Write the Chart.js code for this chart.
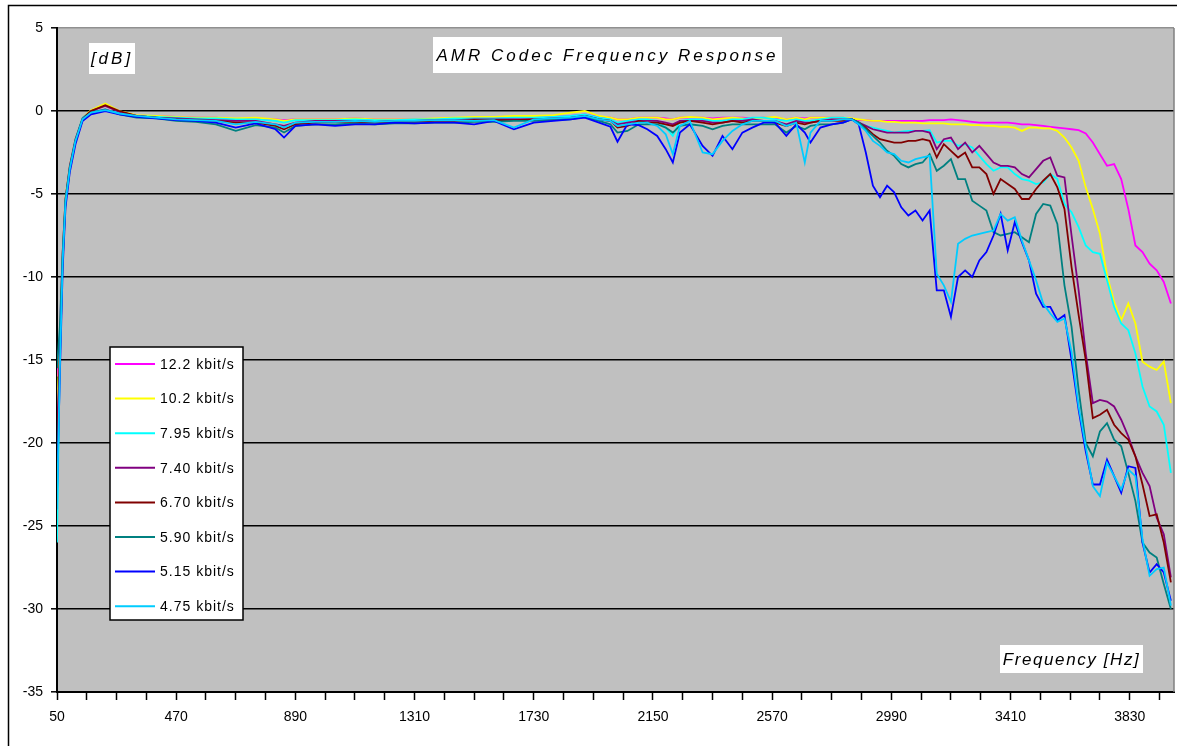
<!DOCTYPE html>
<html>
<head>
<meta charset="utf-8">
<title>AMR Codec Frequency Response</title>
<script src="https://cdn.jsdelivr.net/npm/chart.js@4.4.1/dist/chart.umd.min.js"></script>
<style>
    html, body { margin: 0; padding: 0; background: #fff; }
    #wrap { width: 1177px; height: 746px; }
</style>
</head>
<body>
<div id="wrap"><canvas id="amr-chart"></canvas></div>
<script>
// frequency points in Hz (shared by all series)
const freq = [
    50, 60, 70, 80, 95, 115, 140, 170, 220, 270, 330,
    400, 470, 540, 610, 680, 750, 820, 850, 890, 960, 1030, 1100, 1170, 1240, 1310, 1380, 1450, 1520, 1590, 1660, 1730, 1800, 1860, 1910, 1960,
    2000, 2025, 2060, 2100, 2130, 2165, 2195, 2220, 2245, 2280, 2325, 2360, 2395, 2430, 2465, 2500, 2540, 2580, 2620, 2655, 2685, 2705, 2740, 2780, 2820,
    2850, 2875, 2900, 2925, 2950, 2975, 3000, 3025, 3050, 3075, 3100, 3125, 3150, 3175, 3200, 3225, 3250, 3275, 3300, 3325, 3350, 3375, 3400, 3425,
    3450, 3475, 3500, 3525, 3550, 3575, 3600, 3625, 3650, 3675, 3700, 3725, 3750, 3775, 3800, 3825, 3850, 3875, 3900, 3925, 3950, 3975
];

// response in dB per codec mode
const r122 = [
    -16, -13.5, -8.5, -5.3, -3.4, -1.8, -0.5, -0.1, 0.1, -0.15, -0.3,
    -0.3, -0.35, -0.4, -0.4, -0.5, -0.45, -0.5, -0.55, -0.5, -0.5, -0.5, -0.45, -0.5, -0.5, -0.5, -0.5, -0.45, -0.4, -0.4, -0.4, -0.4, -0.35, -0.3, -0.2, -0.35,
    -0.4, -0.5, -0.5, -0.4, -0.4, -0.4, -0.45, -0.5, -0.4, -0.4, -0.4, -0.45, -0.4, -0.4, -0.4, -0.45, -0.4, -0.4, -0.5, -0.4, -0.45, -0.4, -0.4, -0.4, -0.4,
    -0.5, -0.55, -0.55, -0.6, -0.6, -0.6, -0.6, -0.6, -0.6, -0.6, -0.6, -0.55, -0.55, -0.55, -0.5, -0.55, -0.6, -0.65, -0.7, -0.7, -0.7, -0.7, -0.7, -0.75,
    -0.8, -0.8, -0.85, -0.9, -0.95, -1.0, -1.05, -1.1, -1.15, -1.35, -1.9, -2.6, -3.3, -3.2, -4.1, -5.9, -8.1, -8.5, -9.2, -9.6, -10.3, -11.6
];
const r102 = [
    -18, -14, -8.5, -5.2, -3.3, -1.7, -0.4, 0.05, 0.45, 0.0, -0.25,
    -0.3, -0.35, -0.4, -0.4, -0.45, -0.4, -0.5, -0.6, -0.5, -0.5, -0.5, -0.45, -0.5, -0.5, -0.5, -0.45, -0.4, -0.35, -0.35, -0.3, -0.3, -0.25, -0.1, 0.0, -0.3,
    -0.4, -0.5, -0.5, -0.4, -0.4, -0.4, -0.5, -0.5, -0.4, -0.35, -0.4, -0.5, -0.45, -0.4, -0.45, -0.5, -0.4, -0.35, -0.5, -0.4, -0.5, -0.4, -0.4, -0.4, -0.4,
    -0.45, -0.5, -0.55, -0.6, -0.6, -0.65, -0.65, -0.7, -0.7, -0.7, -0.75, -0.75, -0.75, -0.75, -0.8, -0.8, -0.8, -0.85, -0.85, -0.9, -0.9, -0.95, -0.95, -1.0,
    -1.2, -1.0, -1.0, -1.05, -1.05, -1.2, -1.6, -2.2, -3.0, -4.6, -5.9, -7.4, -9.9, -11.5, -12.6, -11.6, -12.8, -15.1, -15.4, -15.6, -15.1, -17.6
];
const r795 = [
    -26, -15, -8.8, -5.4, -3.4, -1.7, -0.4, -0.05, 0.05, -0.1, -0.3,
    -0.35, -0.4, -0.45, -0.45, -0.5, -0.5, -0.6, -0.7, -0.55, -0.55, -0.55, -0.5, -0.55, -0.55, -0.5, -0.5, -0.45, -0.45, -0.45, -0.4, -0.4, -0.35, -0.3, -0.2, -0.4,
    -0.5, -0.7, -0.6, -0.5, -0.5, -0.6, -1.0, -1.5, -0.6, -0.5, -0.5, -0.6, -0.6, -0.5, -0.5, -0.4, -0.4, -0.5, -0.6, -0.5, -0.6, -0.6, -0.5, -0.4, -0.4,
    -0.5, -0.7, -0.9, -1.0, -1.1, -1.2, -1.3, -1.25, -1.2, -1.2, -1.2, -1.15, -1.9, -1.8, -1.8, -2.1, -2.0, -2.2, -2.7, -3.2, -3.6, -3.4, -3.4, -3.8,
    -4.1, -4.2, -4.4, -4.3, -3.8, -4.1, -5.6, -6.1, -7.0, -8.1, -8.5, -8.6, -10.2, -11.8, -12.8, -13.2, -14.6, -16.6, -17.8, -18.1, -18.9, -21.8
];
const r740 = [
    -19.5, -14.5, -8.6, -5.3, -3.3, -1.7, -0.45, 0.0, 0.3, -0.05, -0.3,
    -0.4, -0.45, -0.5, -0.55, -0.6, -0.6, -0.8, -0.9, -0.7, -0.6, -0.6, -0.6, -0.65, -0.6, -0.6, -0.55, -0.55, -0.5, -0.5, -0.5, -0.5, -0.45, -0.4, -0.3, -0.5,
    -0.6, -0.8, -0.7, -0.6, -0.6, -0.6, -0.7, -0.8, -0.6, -0.6, -0.6, -0.7, -0.7, -0.6, -0.6, -0.5, -0.6, -0.6, -0.8, -0.6, -0.7, -0.7, -0.6, -0.5, -0.5,
    -0.5, -0.7, -0.9, -1.1, -1.2, -1.3, -1.3, -1.3, -1.3, -1.2, -1.2, -1.3, -2.3, -1.7, -1.6, -2.3, -1.9, -2.5, -2.1, -2.6, -3.1, -3.3, -3.3, -3.4,
    -3.8, -4.0, -3.5, -3.0, -2.8, -3.9, -4.0, -7.5, -10.8, -14.6, -17.6, -17.4, -17.5, -17.8, -18.6, -19.6, -20.8, -21.8, -22.6, -24.5, -25.5, -28.1
];
const r670 = [
    -21, -15, -9, -5.5, -3.5, -1.8, -0.5, 0.0, 0.35, 0.0, -0.3,
    -0.4, -0.5, -0.55, -0.6, -0.7, -0.7, -0.9, -1.1, -0.8, -0.7, -0.65, -0.65, -0.7, -0.65, -0.65, -0.6, -0.6, -0.55, -0.55, -0.55, -0.5, -0.5, -0.45, -0.3, -0.5,
    -0.6, -1.0, -0.9, -0.6, -0.7, -0.7, -0.8, -0.9, -0.7, -0.6, -0.7, -0.8, -0.7, -0.6, -0.7, -0.6, -0.6, -0.7, -0.9, -0.7, -0.8, -0.7, -0.6, -0.6, -0.6,
    -0.5, -0.7, -1.0, -1.4, -1.7, -1.8, -1.9, -1.9, -1.8, -1.8, -1.7, -1.8, -2.8, -2.0, -2.4, -2.8, -2.5, -3.4, -3.4, -3.8, -5.0, -4.1, -4.4, -4.7,
    -5.3, -5.3, -4.7, -4.2, -3.8, -4.6, -5.9, -9.4, -12.3, -15.0, -18.5, -18.3, -18.0, -18.9, -19.4, -19.8, -20.8, -22.5, -24.4, -24.3, -26.0, -28.4
];
const r590 = [
    -15.5, -13, -8.5, -5.3, -3.4, -1.8, -0.5, -0.1, 0.1, -0.2, -0.4,
    -0.45, -0.6, -0.65, -0.8, -1.2, -0.85, -1.0, -1.3, -0.9, -0.8, -0.8, -0.75, -0.8, -0.75, -0.75, -0.7, -0.7, -0.65, -0.65, -0.6, -0.6, -0.55, -0.5, -0.35, -0.6,
    -0.8, -1.3, -1.2, -0.8, -0.8, -0.8, -1.0, -1.3, -0.9, -0.8, -0.9, -1.1, -0.9, -0.8, -0.8, -0.8, -0.8, -0.8, -1.3, -0.9, -1.1, -0.9, -0.8, -0.8, -0.7,
    -0.5, -0.7, -1.1, -1.5, -1.9, -2.4, -2.7, -3.2, -3.4, -3.2, -3.1, -2.6, -3.6, -3.3, -2.9, -4.1, -4.1, -5.4, -5.7, -6.0, -7.3, -7.5, -7.4, -7.3,
    -7.6, -7.9, -6.2, -5.6, -5.7, -6.8, -10.5, -13.0, -16.8, -20.0, -20.8, -19.3, -18.8, -19.8, -20.2, -21.8, -23.5, -26.0, -26.6, -26.9, -28.5, -30.0
];
const r515 = [
    -23, -16, -9.5, -5.8, -3.7, -2.0, -0.6, -0.2, 0.0, -0.2, -0.35,
    -0.45, -0.55, -0.6, -0.7, -1.0, -0.75, -1.1, -1.6, -0.9, -0.8, -0.9, -0.8, -0.8, -0.7, -0.75, -0.7, -0.7, -0.8, -0.6, -1.1, -0.7, -0.6, -0.5, -0.4, -0.7,
    -0.95, -1.85, -0.8, -0.85, -1.1, -1.5, -2.3, -3.1, -1.3, -0.8, -2.1, -2.7, -1.5, -2.3, -1.3, -1.0, -0.7, -0.7, -1.5, -0.8, -1.3, -1.9, -1.0, -0.8, -0.7,
    -0.5, -0.8, -2.5, -4.5, -5.2, -4.5, -4.9, -5.8, -6.3, -6.0, -6.6, -6.0, -10.8, -10.8, -12.4, -10.0, -9.6, -10.0, -9.0, -8.5, -7.5, -6.2, -8.4, -6.7,
    -7.9, -9.0, -11.0, -11.8, -11.8, -12.6, -12.3, -15.0, -18.0, -20.5, -22.5, -22.5, -21.0, -22.0, -23.0, -21.4, -21.5, -26.0, -27.8, -27.3, -27.8, -29.5
];
const r475 = [
    -24, -15.5, -9.0, -5.5, -3.5, -1.8, -0.5, -0.1, 0.05, -0.15, -0.3,
    -0.4, -0.5, -0.55, -0.6, -0.8, -0.65, -0.8, -1.0, -0.7, -0.65, -0.65, -0.6, -0.65, -0.6, -0.6, -0.55, -0.55, -0.6, -0.55, -1.0, -0.5, -0.45, -0.4, -0.3, -0.5,
    -0.6, -0.9, -0.8, -0.7, -0.7, -0.9, -1.4, -2.6, -0.9, -0.6, -2.5, -2.6, -1.8, -1.2, -0.8, -0.6, -0.6, -0.6, -0.9, -0.7, -3.1, -1.3, -0.6, -0.6, -0.5,
    -0.5, -0.8, -1.2, -1.8, -2.1, -2.5, -2.6, -3.0, -3.1, -2.9, -2.8, -2.7, -9.8, -10.5, -11.5, -8.0, -7.7, -7.5, -7.4, -7.3, -7.2, -6.2, -6.6, -6.4,
    -7.8, -9.0, -10.2, -11.6, -12.2, -12.7, -12.5, -14.5, -17.8, -20.2, -22.6, -23.2, -21.2, -22.0, -22.8, -21.6, -22.0, -25.8, -28.0, -27.6, -27.5, -29.8
];

const seriesLabels = ['12.2 kbit/s', '10.2 kbit/s', '7.95 kbit/s', '7.40 kbit/s', '6.70 kbit/s', '5.90 kbit/s', '5.15 kbit/s', '4.75 kbit/s'];
const seriesValues = [r122, r102, r795, r740, r670, r590, r515, r475];
const seriesColors = ['#ff00ff', '#ffff00', '#00ffff', '#800080', '#800000', '#008080', '#0000ff', '#00ccff'];

const xTickLabels = [50, 470, 890, 1310, 1730, 2150, 2570, 2990, 3410, 3830];
const xTickStep = 105;

const FONT = "'Liberation Sans', Arial, sans-serif";

function drawBox(ctx, text, x, y, w, h, spacing) {
    ctx.fillStyle = '#fff';
    ctx.fillRect(x, y, w, h);
    ctx.font = 'italic 17px ' + FONT;
    ctx.letterSpacing = spacing;
    ctx.fillStyle = '#000';
    ctx.textAlign = 'center';
    ctx.textBaseline = 'middle';
    ctx.fillText(text, x + w / 2, y + h / 2 + 1);
}

const decor = {
    id: 'decor',
    beforeDraw(chart) {
        const {ctx, chartArea: a} = chart;
        ctx.save();
        ctx.fillStyle = '#fff';
        ctx.fillRect(0, 0, chart.width, chart.height);
        ctx.fillStyle = '#c0c0c0';
        ctx.fillRect(a.left, a.top, a.right - a.left, a.bottom - a.top);
        ctx.strokeStyle = '#000';
        ctx.lineWidth = 1.5;
        ctx.strokeRect(8.5, 5.5, chart.width + 40, chart.height + 40);
        ctx.restore();
    },
    afterDraw(chart) {
        const {ctx, chartArea: a} = chart;
        ctx.save();
        ctx.strokeStyle = '#808080';
        ctx.lineWidth = 1.5;
        ctx.beginPath();
        ctx.moveTo(a.right, a.top);
        ctx.lineTo(a.right, a.bottom);
        ctx.stroke();

        drawBox(ctx, 'AMR Codec Frequency Response', 433, 37, 349, 36, '3px');
        drawBox(ctx, '[dB]', 89, 43, 46, 31, '3px');
        drawBox(ctx, 'Frequency [Hz]', 1000, 645, 143, 28, '1.6px');

        // legend
        ctx.fillStyle = '#fff';
        ctx.fillRect(110, 347, 133, 273);
        ctx.strokeStyle = '#000';
        ctx.lineWidth = 1.5;
        ctx.strokeRect(110, 347, 133, 273);
        ctx.font = '14px ' + FONT;
        ctx.letterSpacing = '1px';
        ctx.textAlign = 'left';
        ctx.textBaseline = 'middle';
        chart.data.datasets.forEach((ds, i) => {
            const y = 364 + i * 34.6;
            ctx.strokeStyle = ds.borderColor;
            ctx.lineWidth = 2;
            ctx.beginPath();
            ctx.moveTo(115, y);
            ctx.lineTo(155, y);
            ctx.stroke();
            ctx.fillStyle = '#000';
            ctx.fillText(ds.label, 160, y + 1);
        });
        ctx.restore();
    }
};

const datasets = seriesLabels.map((label, i) => ({
    label: label,
    data: freq.map((f, j) => ({x: f, y: seriesValues[i][j]})),
    borderColor: seriesColors[i],
    backgroundColor: seriesColors[i],
    borderWidth: 1.8,
    pointRadius: 0,
    tension: 0,
    fill: false,
    order: seriesLabels.length - i
}));

new Chart(document.querySelector('#amr-chart'), {
    type: 'line',
    data: {datasets: datasets},
    options: {
        responsive: true,
        maintainAspectRatio: false,
        devicePixelRatio: 1,
        animation: false,
        events: [],
        layout: {padding: {top: 28, right: 3, left: 0, bottom: 0}},
        plugins: {
            legend: {display: false},
            tooltip: {enabled: false},
            title: {display: false}
        },
        scales: {
            x: {
                type: 'linear',
                min: 50,
                max: 3986,
                afterFit(scale) {
                    scale.height = 54;
                },
                afterBuildTicks(scale) {
                    const ticks = [];
                    for (let v = 50; v <= 3986; v += xTickStep) {
                        ticks.push({value: v});
                    }
                    scale.ticks = ticks;
                },
                grid: {
                    drawOnChartArea: false,
                    drawTicks: true,
                    tickLength: 8,
                    tickColor: '#000',
                    tickWidth: 1.5
                },
                border: {color: '#000', width: 2},
                ticks: {
                    autoSkip: false,
                    maxRotation: 0,
                    padding: 9,
                    color: '#000',
                    font: {family: FONT, size: 14},
                    callback: (v) => xTickLabels.includes(v) ? String(v) : ''
                }
            },
            y: {
                min: -35,
                max: 5,
                afterFit(scale) {
                    scale.width = 57;
                },
                grid: {
                    color: (c) => c.tick.value === 5 ? '#909090' : (c.tick.value === -35 ? 'rgba(0,0,0,0)' : '#000'),
                    lineWidth: 1.6,
                    drawTicks: true,
                    tickLength: 6,
                    tickColor: '#000',
                    tickWidth: 1.5
                },
                border: {color: '#000', width: 2},
                ticks: {
                    stepSize: 5,
                    padding: 8,
                    color: '#000',
                    font: {family: FONT, size: 14}
                }
            }
        }
    },
    plugins: [decor]
});
</script>
</body>
</html>
